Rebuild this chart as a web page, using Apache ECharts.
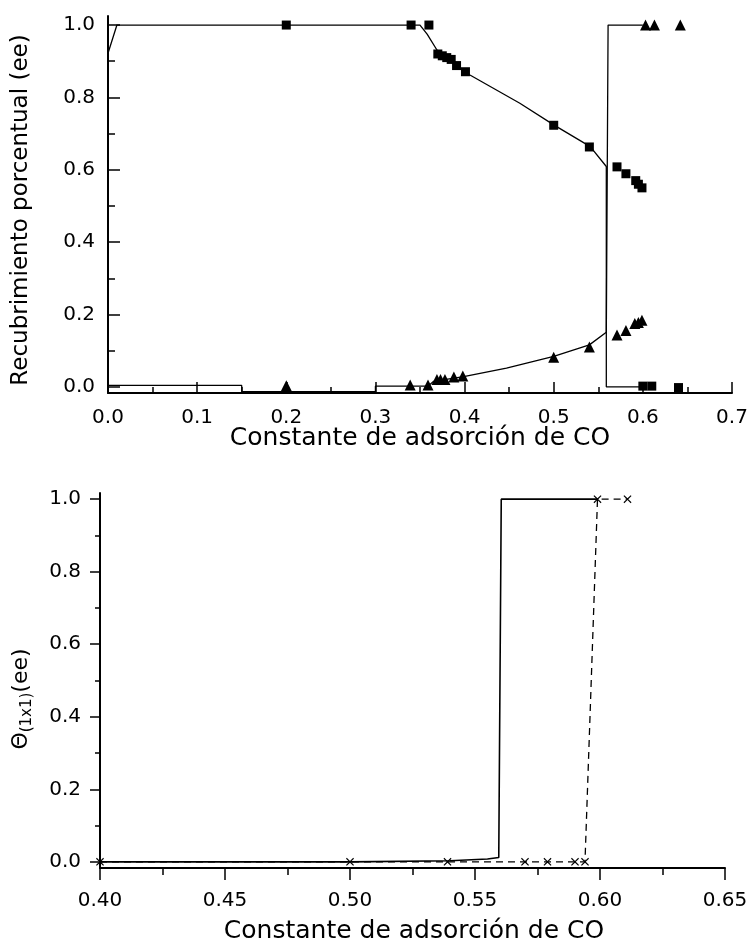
<!DOCTYPE html>
<html>
<head>
<meta charset="utf-8">
<script src="https://cdn.jsdelivr.net/npm/echarts@6/dist/echarts.min.js"></script>
<style>html,body{margin:0;padding:0;background:#fff;}#c{width:750px;height:951px;}</style>
</head>
<body>
<div id="c"></div>
<script>
// ---------- Top chart data ----------
const topXTicks = [0.0, 0.1, 0.2, 0.3, 0.4, 0.5, 0.6, 0.7];
const topYTicks = [0.0, 0.2, 0.4, 0.6, 0.8, 1.0];
const topYMinor = [0.1, 0.3, 0.5, 0.7, 0.9];

const squaresX = [0.20, 0.34, 0.36, 0.37, 0.375, 0.38, 0.385, 0.391, 0.401, 0.50, 0.54, 0.571, 0.581, 0.592, 0.595, 0.599, 0.60, 0.61, 0.64];
const squaresY = [1.0, 1.0, 1.0, 0.92, 0.915, 0.91, 0.905, 0.888, 0.871, 0.723, 0.663, 0.608, 0.589, 0.57, 0.56, 0.55, 0.002, 0.002, -0.002];

const trianglesX = [0.20, 0.339, 0.359, 0.369, 0.373, 0.378, 0.388, 0.398, 0.50, 0.54, 0.571, 0.581, 0.591, 0.595, 0.599, 0.603, 0.613, 0.642];
const trianglesY = [0.003, 0.005, 0.005, 0.02, 0.02, 0.02, 0.027, 0.03, 0.082, 0.11, 0.143, 0.156, 0.175, 0.178, 0.184, 1.0, 1.0, 1.0];

const fitSqX = [0.0, 0.01, 0.35, 0.358, 0.369, 0.391, 0.406, 0.462, 0.50, 0.541, 0.559, 0.559, 0.60];
const fitSqY = [0.922, 1.0, 1.0, 0.975, 0.931, 0.889, 0.862, 0.784, 0.724, 0.664, 0.609, 0.0, 0.0];

const fitTrX = [0.0, 0.15, 0.15, 0.30, 0.30, 0.359, 0.365, 0.399, 0.447, 0.50, 0.54, 0.559, 0.561, 0.586, 0.60];
const fitTrY = [0.004, 0.004, -0.013, -0.013, 0.002, 0.002, 0.015, 0.028, 0.052, 0.084, 0.116, 0.151, 1.0, 1.0, 1.0];

// ---------- Bottom chart data ----------
const botXTicks = [0.40, 0.45, 0.50, 0.55, 0.60, 0.65];
const botYTicks = [0.0, 0.2, 0.4, 0.6, 0.8, 1.0];
const botYMinor = [0.1, 0.3, 0.5, 0.7, 0.9];

const solidX = [0.40, 0.50, 0.54, 0.555, 0.5595, 0.5605, 0.599];
const solidY = [0.0, 0.0, 0.003, 0.008, 0.012, 1.0, 1.0];

const dashX = [0.40, 0.50, 0.539, 0.57, 0.579, 0.59, 0.594, 0.599, 0.611];
const dashY = [0.0, 0.0, 0.0, 0.0, 0.0, 0.0, 0.0, 1.0, 1.0];

// ---------- Texts ----------
const topXTitle = 'Constante de adsorción de CO';
const topYTitle = 'Recubrimiento porcentual (ee)';
const botXTitle = 'Constante de adsorción de CO';

const FONT = 'DejaVu Sans';
const zip = (xs, ys) => xs.map((x, i) => [x, ys[i]]);
const near = (v, arr) => arr.some(t => Math.abs(t - v) < 1e-6);
const crossPath = 'path://M0,1 L1,0 L5,4 L9,0 L10,1 L6,5 L10,9 L9,10 L5,6 L1,10 L0,9 L4,5 Z';

const lineAxis = {color: '#000', width: 2};
const tickStyle = {color: '#000', width: 1.5};
const labelBase = {color: '#000', fontFamily: FONT, fontSize: 20};
const titleFont = '25px "DejaVu Sans"';

const option = {
  backgroundColor: '#fff',
  animation: false,
  grid: [
    {left: 108, top: 16, width: 624, height: 377, outerBoundsMode: 'none', containLabel: false},
    {left: 100, top: 493, width: 625, height: 375, outerBoundsMode: 'none', containLabel: false}
  ],
  xAxis: [
    {
      gridIndex: 0, type: 'value', min: 0, max: 0.7, interval: 0.1,
      axisLine: {onZero: false, lineStyle: lineAxis},
      axisTick: {inside: true, length: 11, lineStyle: tickStyle},
      minorTick: {show: true, splitNumber: 2, length: 6, lineStyle: tickStyle},
      splitLine: {show: false}, minorSplitLine: {show: false},
      axisLabel: Object.assign({margin: 15, formatter: v => near(v, topXTicks) ? v.toFixed(1) : ''}, labelBase)
    },
    {
      gridIndex: 1, type: 'value', min: 0.40, max: 0.65, interval: 0.05,
      axisLine: {onZero: false, lineStyle: lineAxis},
      axisTick: {inside: false, length: 12, lineStyle: tickStyle},
      minorTick: {show: true, splitNumber: 2, length: 7, lineStyle: tickStyle},
      splitLine: {show: false}, minorSplitLine: {show: false},
      axisLabel: Object.assign({margin: 23, formatter: v => near(v, botXTicks) ? v.toFixed(2) : ''}, labelBase)
    }
  ],
  yAxis: [
    {
      gridIndex: 0, type: 'value', min: -0.017, max: 1.025, position: 'left',
      axisLine: {onZero: false, lineStyle: lineAxis},
      axisTick: {inside: true, length: 12, lineStyle: tickStyle, customValues: topYTicks},
      splitLine: {show: false},
      axisLabel: Object.assign({margin: 13, customValues: topYTicks, formatter: v => near(v, topYTicks) ? v.toFixed(1) : ''}, labelBase)
    },
    {
      gridIndex: 0, type: 'value', min: -0.017, max: 1.025, position: 'left', offset: 0,
      axisLine: {show: false},
      axisTick: {inside: true, length: 7, lineStyle: tickStyle, customValues: topYMinor},
      splitLine: {show: false},
      axisLabel: {show: false}
    },
    {
      gridIndex: 1, type: 'value', min: -0.017, max: 1.017, position: 'left',
      axisLine: {onZero: false, lineStyle: lineAxis},
      axisTick: {inside: false, length: 10, lineStyle: tickStyle, customValues: botYTicks},
      splitLine: {show: false},
      axisLabel: Object.assign({margin: 19, customValues: botYTicks, formatter: v => near(v, botYTicks) ? v.toFixed(1) : ''}, labelBase)
    },
    {
      gridIndex: 1, type: 'value', min: -0.017, max: 1.017, position: 'left', offset: 0,
      axisLine: {show: false},
      axisTick: {inside: false, length: 5, lineStyle: tickStyle, customValues: botYMinor},
      splitLine: {show: false},
      axisLabel: {show: false}
    }
  ],
  graphic: [
    {type: 'text', x: 420, y: 438, style: {text: topXTitle, font: titleFont, fill: '#000', align: 'center', verticalAlign: 'middle', textAlign: 'center', textVerticalAlign: 'middle'}},
    {type: 'text', x: 21, y: 210, rotation: Math.PI / 2, style: {text: topYTitle, font: '23px "DejaVu Sans"', fill: '#000', align: 'center', verticalAlign: 'middle', textAlign: 'center', textVerticalAlign: 'middle'}},
    {type: 'text', x: 414, y: 931, style: {text: botXTitle, font: titleFont, fill: '#000', align: 'center', verticalAlign: 'middle', textAlign: 'center', textVerticalAlign: 'middle'}},
    {type: 'text', x: 21, y: 699, rotation: Math.PI / 2, style: {
      text: 'Θ{sub|(1x1)}(ee)', font: '22px "DejaVu Sans"', fill: '#000', align: 'center', verticalAlign: 'middle', textAlign: 'center', textVerticalAlign: 'middle',
      rich: {sub: {fontSize: 15, fontFamily: FONT, fill: '#000', color: '#000', padding: [12, 0, 0, 0]}}
    }}
  ],
  series: [
    {type: 'line', xAxisIndex: 0, yAxisIndex: 0, data: zip(fitSqX, fitSqY), showSymbol: false, lineStyle: {color: '#000', width: 1.3, opacity: 1}, silent: true},
    {type: 'line', xAxisIndex: 0, yAxisIndex: 0, data: zip(fitTrX, fitTrY), showSymbol: false, lineStyle: {color: '#000', width: 1.3, opacity: 1}, silent: true},
    {type: 'scatter', xAxisIndex: 0, yAxisIndex: 0, data: zip(squaresX, squaresY), symbol: 'rect', symbolSize: 9, itemStyle: {color: '#000', opacity: 1}},
    {type: 'scatter', xAxisIndex: 0, yAxisIndex: 0, data: zip(trianglesX, trianglesY), symbol: 'triangle', symbolSize: 11, itemStyle: {color: '#000', opacity: 1}},
    {type: 'line', xAxisIndex: 1, yAxisIndex: 2, data: zip(solidX, solidY), showSymbol: false, lineStyle: {color: '#000', width: 1.6, opacity: 1}, silent: true},
    {type: 'line', xAxisIndex: 1, yAxisIndex: 2, data: zip(dashX, dashY), symbol: crossPath, symbolSize: 8, showSymbol: true, showAllSymbol: true,
      itemStyle: {color: '#000', opacity: 1}, lineStyle: {color: '#000', width: 1.3, type: [7, 5], opacity: 1}, silent: true}
  ]
};

const chart = echarts.init(document.getElementById('c'), null, {renderer: 'canvas'});
chart.setOption(option);
</script>
</body>
</html>
